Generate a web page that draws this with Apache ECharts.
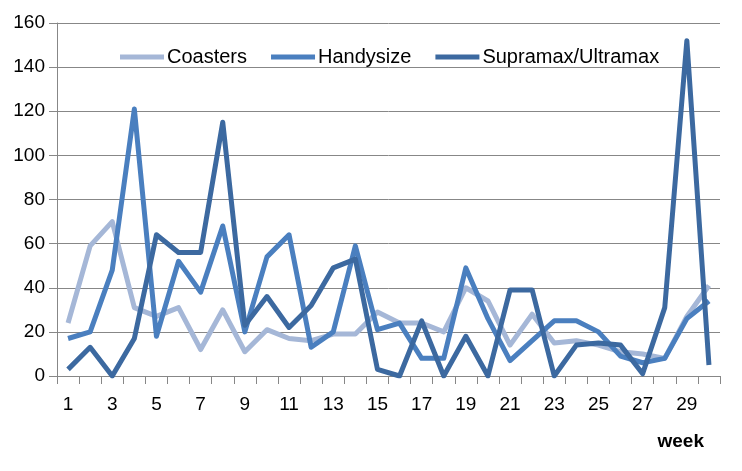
<!DOCTYPE html>
<html>
<head>
<meta charset="utf-8">
<script src="https://cdn.jsdelivr.net/npm/echarts@6/dist/echarts.min.js"></script>
<style>
  html, body { margin: 0; padding: 0; background: #fff; }
  #chart { width: 742px; height: 471px; }
</style>
</head>
<body>
<div id="chart"></div>
<script>
// weeks 1..30
var weeks = [];
for (var w = 1; w <= 30; w++) weeks.push(String(w));

var seriesNames = ['Coasters', 'Handysize', 'Supramax/Ultramax'];

var coasters = [24, 59, 70, 31, 27, 31, 12, 30, 11, 21, 17, 16, 19, 19, 29, 24, 24, 20, 40, 34, 14, 28, 15, 16, 14, 11, 10, 8, 27, 41];
var handysize = [17, 20, 48, 121, 18, 52, 38, 68, 20, 54, 64, 13, 20, 59, 21, 24, 8, 8, 49, 26, 7, 16, 25, 25, 20, 9, 6, 8, 26, 34];
var supramax = [3, 13, 0, 17, 64, 56, 56, 115, 23, 36, 22, 32, 49, 53, 3, 0, 25, 0, 18, 0, 39, 39, 0, 14, 15, 14, 1, 31, 152, 5];

var colors = ['#a5b7d7', '#4a7fbf', '#3c69a0'];

var chart = echarts.init(document.getElementById('chart'));

function lineSeries(name, data, color) {
    return {
        name: name,
        type: 'line',
        data: data,
        symbol: 'none',
        smooth: false,
        lineStyle: { width: 5, color: color, join: 'round', cap: 'butt' },
        itemStyle: { color: color }
    };
}

chart.setOption({
    animation: false,
    color: colors,
    title: {
        text: 'week',
        right: 33,
        top: 427,
        textStyle: { fontFamily: 'Liberation Sans', fontSize: 19, fontWeight: 'bold', color: '#000' }
    },
    legend: {
        data: seriesNames,
        left: 115,
        top: 42,
        icon: 'rect',
        itemWidth: 44,
        itemHeight: 5,
        itemGap: 24,
        textStyle: { fontFamily: 'Liberation Sans', fontSize: 20, color: '#000', padding: [0, 0, 0, -2] }
    },
    grid: { left: 57, right: 22, top: 23, bottom: 95, containLabel: false },
    xAxis: {
        type: 'category',
        data: weeks,
        boundaryGap: true,
        axisLine: { lineStyle: { color: '#878787', width: 1 } },
        axisTick: { show: true, interval: 0, length: 8, lineStyle: { color: '#878787' } },
        axisLabel: { interval: 1, margin: 19, fontFamily: 'Liberation Sans', fontSize: 19, color: '#000' },
        splitLine: { show: false }
    },
    yAxis: {
        type: 'value',
        min: 0,
        max: 160,
        interval: 20,
        axisLine: { show: true, lineStyle: { color: '#878787', width: 1 } },
        axisTick: { show: true, length: 8, lineStyle: { color: '#878787' } },
        axisLabel: { margin: 12, fontFamily: 'Liberation Sans', fontSize: 19, color: '#000' },
        splitLine: { show: true, lineStyle: { color: '#878787', width: 1 } }
    },
    series: [
        lineSeries(seriesNames[0], coasters, colors[0]),
        lineSeries(seriesNames[1], handysize, colors[1]),
        lineSeries(seriesNames[2], supramax, colors[2])
    ]
});
</script>
</body>
</html>
